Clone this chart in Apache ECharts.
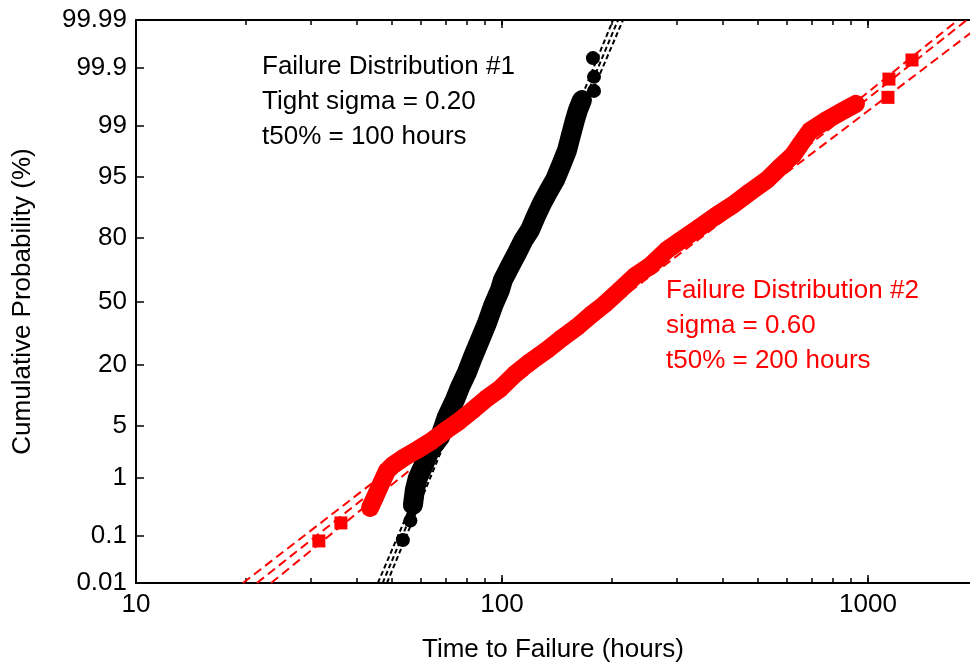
<!DOCTYPE html>
<html>
<head>
<meta charset="utf-8">
<title>Lognormal probability plot</title>
<script src="https://cdn.jsdelivr.net/npm/echarts@6.0.0/dist/echarts.min.js"></script>
<style>
  html, body { margin: 0; padding: 0; background: #fff; }
  #container { width: 970px; height: 663px; }
</style>
</head>
<body>
<div id="container"></div>
<script>
// failure time (hours) and cumulative probability (%)
const blackTime = [53.6, 56.2, 57.1, 57.8, 58.9, 60.8, 63.6, 67.7, 70.7, 74.4, 76.8, 80.3, 83.3, 87.1, 91.0, 94.5, 98.7, 100.6, 105.2, 109.9, 114.1, 119.3, 123.9, 128.6, 133.6, 139.6, 145.0, 150.5, 154.3, 158.3, 161.3, 165.4, 178.4, 178.4, 177.2];
const blackPct = [0.081, 0.19, 0.36, 0.64, 0.99, 1.44, 2.49, 3.67, 6.35, 9.7, 12.9, 17.6, 23.2, 30.6, 38.8, 47.6, 56.0, 61.2, 68.0, 73.9, 78.8, 82.8, 87.1, 90.3, 92.6, 94.6, 96.4, 97.7, 98.6, 99.18, 99.43, 99.61, 99.73, 99.85, 99.935];

const redTime = [31.6, 36.3, 43.6, 45.0, 46.7, 48.5, 50.4, 54.3, 58.6, 63.6, 69.9, 75.8, 83.3, 91.0, 98.7, 108.5, 119.3, 132.7, 145.9, 160.3, 176.2, 191.1, 210.1, 230.9, 253.8, 282.4, 306.4, 347.5, 386.7, 427.6, 476.1, 529.7, 574.9, 624.0, 652.1, 694.4, 772.7, 854.6, 927.2, 1134, 1141, 1319];
const redPct = [0.078, 0.172, 0.32, 0.49, 0.80, 1.26, 1.54, 2.0, 2.49, 3.17, 4.36, 5.57, 7.59, 10.1, 12.4, 16.9, 21.2, 26.1, 31.5, 36.8, 43.4, 48.7, 56.0, 63.2, 68.0, 75.2, 78.8, 83.7, 87.3, 89.9, 92.6, 94.6, 96.2, 97.35, 98.07, 98.79, 99.18, 99.41, 99.55, 99.65, 99.835, 99.929];

// fitted line + confidence bounds at 0.01%, 50% and 99.99%
const fitPct = [0.01, 50, 99.99];
const blackFitTime = [[45.8, 97.5, 201.1], [47.2, 99.0, 207.5], [48.5, 100.5, 214.1]];
const redFitTime = [[19.6, 194, 1762], [21.4, 199.6, 1862], [23.4, 206, 2125]];

// axes
const xMin = 10, xMax = 1900;
const xMajor = [10, 100, 1000];
const xMinor = [20, 30, 40, 50, 60, 70, 80, 90, 200, 300, 400, 500, 600, 700, 800, 900];
const yTicks = [0.01, 0.1, 1, 5, 20, 50, 80, 95, 99, 99.9, 99.99];
const yLabels = ['0.01', '0.1', '1', '5', '20', '50', '80', '95', '99', '99.9', '99.99'];

const FONT = 'Liberation Sans';
const FS = 26;

// inverse normal cdf (Acklam)
function probit(p) {
  const a = [-3.969683028665376e+01, 2.209460984245205e+02, -2.759285104469687e+02, 1.383577518672690e+02, -3.066479806614716e+01, 2.506628277459239e+00];
  const b = [-5.447609879822406e+01, 1.615858368580409e+02, -1.556989798598866e+02, 6.680131188771972e+01, -1.328068155288572e+01];
  const c = [-7.784894002430293e-03, -3.223964580411365e-01, -2.400758277161838e+00, -2.549732539343734e+00, 4.374664141464968e+00, 2.938163982698783e+00];
  const d = [7.784695709041462e-03, 3.224671290700398e-01, 2.445134137142996e+00, 3.754408661907416e+00];
  const pl = 0.02425;
  let q, r;
  if (p < pl) {
    q = Math.sqrt(-2 * Math.log(p));
    return (((((c[0]*q+c[1])*q+c[2])*q+c[3])*q+c[4])*q+c[5]) / ((((d[0]*q+d[1])*q+d[2])*q+d[3])*q+1);
  }
  if (p <= 1 - pl) {
    q = p - 0.5; r = q * q;
    return (((((a[0]*r+a[1])*r+a[2])*r+a[3])*r+a[4])*r+a[5])*q / (((((b[0]*r+b[1])*r+b[2])*r+b[3])*r+b[4])*r+1);
  }
  q = Math.sqrt(-2 * Math.log(1 - p));
  return -(((((c[0]*q+c[1])*q+c[2])*q+c[3])*q+c[4])*q+c[5]) / ((((d[0]*q+d[1])*q+d[2])*q+d[3])*q+1);
}

const lx = v => Math.log10(v);
const pz = v => probit(v / 100);
const pt = (t, p) => [lx(t), pz(p)];

const yTickZ = yTicks.map(pz);
const zMin = yTickZ[0], zMax = yTickZ[yTickZ.length - 1];
const allTicks = xMajor.concat(xMinor).map(lx);

const blackPts = blackTime.map((t, i) => pt(t, blackPct[i]));
const redPts = redTime.map((t, i) => pt(t, redPct[i]));

function fitSeries(list, color, dash) {
  return list.map(ends => ({
    type: 'line',
    data: ends.map((t, i) => pt(t, fitPct[i])),
    showSymbol: false,
    silent: true,
    clip: true,
    lineStyle: { color: color, width: 2, type: dash },
    z: 2
  }));
}

let dom = document.getElementById('container');
let myChart = echarts.init(dom, null, { renderer: 'canvas' });

let option = {
  animation: false,
  backgroundColor: '#fff',
  grid: { left: 136, right: 0, top: 20, bottom: 80, containLabel: false, outerBoundsMode: 'none' },
  xAxis: [{
    type: 'value',
    position: 'bottom',
    min: lx(xMin),
    max: lx(xMax),
    name: 'Time to Failure (hours)',
    nameLocation: 'middle',
    nameGap: 54,
    nameTextStyle: { fontFamily: FONT, fontSize: FS, color: '#000' },
    axisLine: { show: true, onZero: false, lineStyle: { color: '#000', width: 2 } },
    axisTick: { show: true, inside: true, length: 5, customValues: allTicks, lineStyle: { color: '#000', width: 1.5 } },
    axisLabel: {
      show: true, customValues: xMajor.map(lx), margin: 9,
      fontFamily: FONT, fontSize: FS, color: '#000',
      formatter: v => String(Math.round(Math.pow(10, v)))
    },
    splitLine: { show: false }
  }, {
    type: 'value',
    position: 'top',
    min: lx(xMin),
    max: lx(xMax),
    axisLine: { show: true, onZero: false, lineStyle: { color: '#000', width: 2 } },
    axisTick: { show: true, inside: true, length: 5, customValues: allTicks, lineStyle: { color: '#000', width: 1.5 } },
    axisLabel: { show: false },
    splitLine: { show: false }
  }],
  yAxis: {
    type: 'value',
    min: zMin,
    max: zMax,
    name: 'Cumulative Probability (%)',
    nameLocation: 'middle',
    nameGap: 100,
    nameTextStyle: { fontFamily: FONT, fontSize: FS, color: '#000' },
    axisLine: { show: true, onZero: false, lineStyle: { color: '#000', width: 2 } },
    axisTick: { show: true, inside: true, length: 8, customValues: yTickZ, lineStyle: { color: '#000', width: 1.5 } },
    axisLabel: {
      customValues: yTickZ, margin: 9,
      fontFamily: FONT, fontSize: FS, color: '#000',
      formatter: function (v) {
        let best = 0;
        for (let i = 1; i < yTickZ.length; i++) {
          if (Math.abs(yTickZ[i] - v) < Math.abs(yTickZ[best] - v)) best = i;
        }
        return yLabels[best];
      }
    },
    splitLine: { show: false }
  },
  series: [].concat(
    fitSeries(blackFitTime, '#000', [5, 3]),
    fitSeries(redFitTime, '#ff0000', [9, 5]),
    [{
      // longer major ticks, bottom and top
      type: 'custom',
      silent: true,
      data: xMajor.map(v => [lx(v), 0]),
      encode: { x: 0, y: 1 },
      renderItem: function (params, api) {
        const b = api.coord([api.value(0), zMin]);
        const t = api.coord([api.value(0), zMax]);
        const st = { stroke: '#000', lineWidth: 1.5 };
        return {
          type: 'group',
          children: [
            { type: 'line', shape: { x1: b[0], y1: b[1], x2: b[0], y2: b[1] - 8 }, style: st },
            { type: 'line', shape: { x1: t[0], y1: t[1], x2: t[0], y2: t[1] + 8 }, style: st }
          ]
        };
      },
      z: 3
    }, {
      type: 'line',
      data: blackPts.slice(2, 32),
      showSymbol: false,
      lineStyle: { color: '#000', width: 20, cap: 'round', join: 'round' },
      z: 4
    }, {
      type: 'scatter',
      data: blackPts,
      symbol: 'circle',
      symbolSize: 14,
      itemStyle: { color: '#000', opacity: 1 },
      z: 5
    }, {
      type: 'line',
      data: redPts.slice(2, 39),
      showSymbol: false,
      lineStyle: { color: '#ff0000', width: 18, cap: 'round', join: 'round' },
      z: 6
    }, {
      type: 'scatter',
      data: redPts,
      symbol: 'rect',
      symbolSize: 13,
      itemStyle: { color: '#ff0000', opacity: 1 },
      z: 7
    }]
  ),
  graphic: {
    elements: [
      { type: 'text', x: 262, y: 67, style: { text: 'Failure Distribution #1', font: FS + 'px ' + FONT, fill: '#000', verticalAlign: 'middle' } },
      { type: 'text', x: 262, y: 102, style: { text: 'Tight sigma = 0.20', font: FS + 'px ' + FONT, fill: '#000', verticalAlign: 'middle' } },
      { type: 'text', x: 262, y: 137, style: { text: 't50% = 100 hours', font: FS + 'px ' + FONT, fill: '#000', verticalAlign: 'middle' } },
      { type: 'text', x: 666, y: 291, style: { text: 'Failure Distribution #2', font: FS + 'px ' + FONT, fill: '#ff0000', verticalAlign: 'middle' } },
      { type: 'text', x: 666, y: 326, style: { text: 'sigma = 0.60', font: FS + 'px ' + FONT, fill: '#ff0000', verticalAlign: 'middle' } },
      { type: 'text', x: 666, y: 361, style: { text: 't50% = 200 hours', font: FS + 'px ' + FONT, fill: '#ff0000', verticalAlign: 'middle' } }
    ]
  }
};

myChart.setOption(option);
</script>
</body>
</html>
